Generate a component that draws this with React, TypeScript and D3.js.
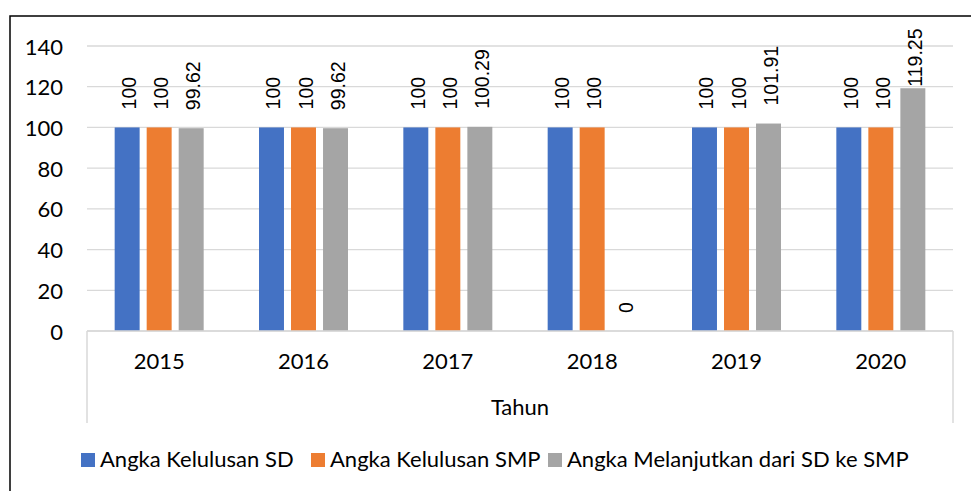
import * as d3 from 'd3';

const years = ['2015', '2016', '2017', '2018', '2019', '2020'];
const seriesNames = ['Angka Kelulusan SD', 'Angka Kelulusan SMP', 'Angka Melanjutkan dari SD ke SMP'];
const sdValues = [100, 100, 100, 100, 100, 100];
const smpValues = [100, 100, 100, 100, 100, 100];
const lanjutValues = [99.62, 99.62, 100.29, 0, 101.91, 119.25];
const yTicks = [0, 20, 40, 60, 80, 100, 120, 140];
const colors = ['#4472C4', '#ED7D31', '#A5A5A5'];

const W = 971;
const H = 491;
const plot = { left: 87, right: 953, top: 46, bottom: 331 };
const gridColor = '#d9d9d9';
const tickFont = 'Lato, "Open Sans", sans-serif';
const labelFont = '"Liberation Sans", Arial, sans-serif';
const tickSize = 22;

export default function App() {
  const series = [sdValues, smpValues, lanjutValues];

  const x = d3.scaleBand<string>().domain(years).range([plot.left, plot.right]);
  const inner = d3
    .scaleBand<number>()
    .domain([0, 1, 2])
    .range([(x.bandwidth() - 89) / 2, (x.bandwidth() + 89) / 2])
    .paddingInner(0.22);
  const y = d3.scaleLinear().domain([0, 140]).range([plot.bottom, plot.top]);

  const fmt = (v: number) => (Number.isInteger(v) ? String(v) : d3.format('.2f')(v));
  const labelSize = 19.5;
  const labelTopLimit = 27;

  return (
    <>
      <style>{'body{margin:0}'}</style>
      <svg width={W} height={H} style={{ display: 'block', background: '#fff' }}>
        {/* chart border */}
        <rect x={10} y={16} width={W + 20} height={H + 20} fill="none" stroke="#000" strokeWidth={1.5} />

        {/* gridlines */}
        {yTicks.map((t) => (
          <line
            key={t}
            x1={plot.left}
            x2={plot.right}
            y1={y(t)}
            y2={y(t)}
            stroke={gridColor}
            strokeWidth={1.3}
          />
        ))}

        {/* y tick labels */}
        {yTicks.map((t) => (
          <text
            key={'yl' + t}
            x={63}
            y={y(t)}
            textAnchor="end"
            dominantBaseline="central"
            fontFamily={tickFont}
            fontSize={tickSize}
            fill="#000"
          >
            {t}
          </text>
        ))}

        {/* bars */}
        {series.map((vals, si) =>
          vals.map((v, i) => {
            const bx = (x(years[i]) ?? 0) + (inner(si) ?? 0);
            return (
              <rect
                key={`b${si}-${i}`}
                x={bx}
                y={y(v)}
                width={inner.bandwidth()}
                height={plot.bottom - y(v)}
                fill={colors[si]}
              />
            );
          })
        )}

        {/* category axis */}
        <line x1={plot.left} x2={plot.right} y1={plot.bottom} y2={plot.bottom} stroke={gridColor} strokeWidth={1.5} />
        <line x1={plot.left} x2={plot.left} y1={plot.bottom} y2={423} stroke={gridColor} strokeWidth={1.5} />
        <line x1={plot.right} x2={plot.right} y1={plot.bottom} y2={423} stroke={gridColor} strokeWidth={1.5} />

        {/* data labels */}
        {series.map((vals, si) =>
          vals.map((v, i) => {
            const cx = (x(years[i]) ?? 0) + (inner(si) ?? 0) + inner.bandwidth() / 2 + 2;
            const txt = fmt(v);
            const len = txt.replace('.', '').length * labelSize * 0.556 + (txt.includes('.') ? labelSize * 0.278 : 0);
            const start = Math.max(y(v) - 18, labelTopLimit + len);
            return (
              <text
                key={`l${si}-${i}`}
                transform={`translate(${cx},${start}) rotate(-90)`}
                textAnchor="start"
                dominantBaseline="central"
                fontFamily={labelFont}
                fontSize={labelSize}
                fill="#000"
              >
                {txt}
              </text>
            );
          })
        )}

        {/* category labels */}
        {years.map((yr) => (
          <text
            key={'c' + yr}
            x={(x(yr) ?? 0) + x.bandwidth() / 2}
            y={369}
            textAnchor="middle"
            fontFamily={tickFont}
            fontSize={tickSize}
            fill="#000"
          >
            {yr}
          </text>
        ))}
        <text
          x={(plot.left + plot.right) / 2}
          y={415}
          textAnchor="middle"
          fontFamily={tickFont}
          fontSize={tickSize}
          fill="#000"
        >
          Tahun
        </text>

        {/* legend */}
        {seriesNames.map((name, si) => {
          const lx = [81, 311, 548][si];
          return (
            <g key={'lg' + si}>
              <rect x={lx} y={453} width={14} height={14} fill={colors[si]} />
              <text x={lx + 19} y={467} fontFamily={tickFont} fontSize={tickSize} fill="#000">
                {name}
              </text>
            </g>
          );
        })}
      </svg>
    </>
  );
}
